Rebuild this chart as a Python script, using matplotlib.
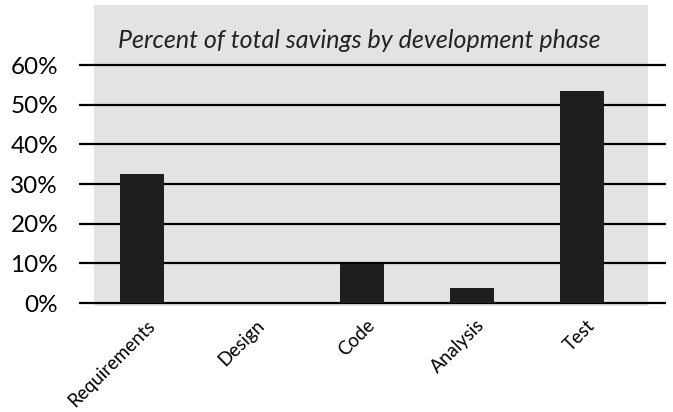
import matplotlib
matplotlib.use("Agg")
import matplotlib.pyplot as plt
import matplotlib.transforms as mtransforms

categories = ["Requirements", "Design", "Code", "Analysis", "Test"]
savings_pct = [32.5, 0.0, 9.8, 3.8, 53.4]
y_ticks = [0, 10, 20, 30, 40, 50, 60]
title = "Percent of total savings by development phase"

plt.rcParams['font.family'] = ['Lato', 'DejaVu Sans']

W, H = 673, 412
fig = plt.figure(figsize=(W / 100, H / 100), dpi=100)
# axes spans the gridline extent horizontally and the grey panel vertically
ax = fig.add_axes([79 / W, 1 - 306 / H, (666 - 79) / W, (306 - 5) / H])
ax.set_facecolor('none')

px_per_unit = (303 - 65) / 60
ax.set_ylim(-3 / px_per_unit, 60 + 60 / px_per_unit)
ax.set_xlim((79 - 142) / 110, (666 - 142) / 110)

# grey panel
ax.axvspan((94 - 142) / 110, (648 - 142) / 110, color='#e3e3e3', zorder=0, lw=0)

for t in y_ticks:
    ax.axhline(t, color='black', lw=1.6, zorder=1)

x = range(len(categories))
ax.bar(x, savings_pct, width=0.4, color='#1e1e1e', zorder=2)

ax.set_yticks(y_ticks)
ax.set_yticklabels([f"{t}%" for t in y_ticks], fontsize=17.5)
ax.set_xticks(list(x))
ax.set_xticklabels(categories, rotation=45, ha='right', va='center',
                   rotation_mode='anchor', fontsize=13.5)
ax.tick_params(axis='y', length=0, pad=15)
ax.tick_params(axis='x', length=0, pad=14)
for s in ax.spines.values():
    s.set_visible(False)

# nudge the slanted labels right and up a little
shift = mtransforms.ScaledTranslation(10 / 100, 3 / 100, fig.dpi_scale_trans)
for lbl in ax.get_xticklabels():
    lbl.set_transform(lbl.get_transform() + shift)

ax.text((118 - 142) / 110, 60 + 25 / px_per_unit, title, fontsize=18, style='italic',
        ha='left', va='center', color='#222222')

fig.savefig("out.png", dpi=100)
